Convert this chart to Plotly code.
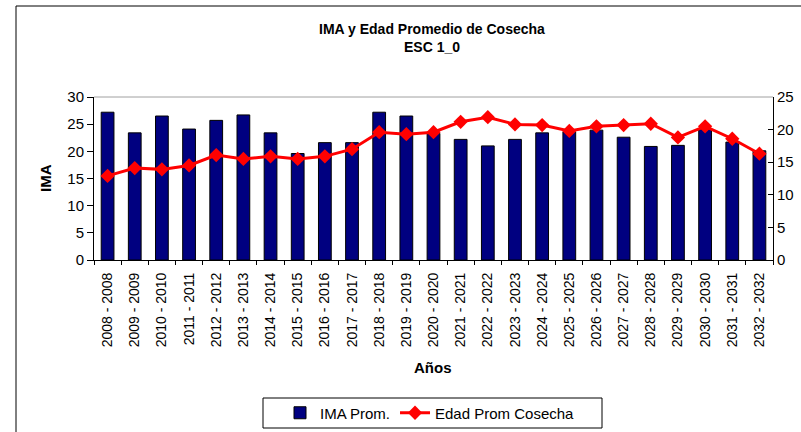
import plotly.graph_objects as go

categories = ["2008 - 2008", "2009 - 2009", "2010 - 2010", "2011 - 2011", "2012 - 2012",
              "2013 - 2013", "2014 - 2014", "2015 - 2015", "2016 - 2016", "2017 - 2017",
              "2018 - 2018", "2019 - 2019", "2020 - 2020", "2021 - 2021", "2022 - 2022",
              "2023 - 2023", "2024 - 2024", "2025 - 2025", "2026 - 2026", "2027 - 2027",
              "2028 - 2028", "2029 - 2029", "2030 - 2030", "2031 - 2031", "2032 - 2032"]
ima_prom = [27.2, 23.4, 26.5, 24.1, 25.7, 26.7, 23.4, 19.6, 21.6, 21.6,
            27.2, 26.5, 23.3, 22.2, 21.0, 22.2, 23.4, 23.6, 23.9, 22.6,
            20.9, 21.1, 24.0, 21.7, 20.1]
edad_prom = [12.9, 14.1, 13.9, 14.5, 16.1, 15.5, 15.9, 15.5, 15.9, 17.0,
             19.6, 19.3, 19.6, 21.2, 21.9, 20.8, 20.7, 19.8, 20.5, 20.7,
             20.9, 18.8, 20.5, 18.6, 16.3]

FONT = "Liberation Sans, Arial, sans-serif"
W, H = 801, 432
ML, MR, MT, MB = 94, 28, 97, 172
PW, PH = W - ML - MR, H - MT - MB


def px(x):
    return (x - ML) / PW


def py(y):
    return (H - MB - y) / PH


fig = go.Figure()
fig.add_trace(go.Bar(
    x=categories, y=ima_prom, name="IMA Prom.",
    marker=dict(color="#000080", line=dict(color="black", width=1)),
    yaxis="y",
))
fig.add_trace(go.Scatter(
    x=categories, y=edad_prom, name="Edad Prom Cosecha",
    mode="lines+markers",
    line=dict(color="#FF0000", width=3),
    marker=dict(symbol="diamond", size=11, color="#FF0000"),
    yaxis="y2",
))

fig.update_layout(
    width=W, height=H,
    margin=dict(l=ML, r=MR, t=MT, b=MB, autoexpand=False),
    paper_bgcolor="white", plot_bgcolor="white",
    font=dict(family=FONT, color="black", size=14),
    bargap=0.53,
    showlegend=True,
    legend=dict(
        orientation="h", x=px(430), xanchor="center", y=py(413), yanchor="middle",
        borderwidth=0, font=dict(size=15, family=FONT),
        bgcolor="rgba(0,0,0,0)", itemwidth=30,
    ),
    xaxis=dict(
        type="category", range=[-0.5, len(categories) - 0.5],
        tickangle=-90, tickson="boundaries",
        ticks="outside", ticklen=4, tickcolor="black",
        showline=True, linecolor="black", linewidth=1,
        showgrid=False, zeroline=False, automargin=False,
        tickfont=dict(size=14, family=FONT),
        ticklabelstandoff=6,
    ),
    yaxis=dict(
        range=[0, 30], dtick=5, ticks="outside", ticklen=6, tickcolor="black",
        showline=True, linecolor="black", linewidth=1,
        showgrid=False, zeroline=False, automargin=False,
        tickfont=dict(size=15, family=FONT),
    ),
    yaxis2=dict(
        range=[0, 25], dtick=5, overlaying="y", side="right",
        ticks="inside", ticklen=5, tickcolor="black",
        showline=True, linecolor="black", linewidth=1,
        showgrid=False, zeroline=False, automargin=False,
        tickfont=dict(size=15, family=FONT),
    ),
    shapes=[
        dict(type="line", xref="paper", yref="paper", x0=0, x1=1, y0=1, y1=1,
             line=dict(color="#A0A0A0", width=1), layer="below"),
        dict(type="rect", xref="paper", yref="paper",
             x0=px(16), x1=px(830), y0=py(6), y1=py(460),
             line=dict(color="black", width=1)),
        dict(type="rect", xref="paper", yref="paper",
             x0=px(263), x1=px(602), y0=py(398), y1=py(428),
             line=dict(color="black", width=1)),
    ],
    annotations=[
        dict(text="<b>IMA y Edad Promedio de Cosecha</b>", x=px(432), y=py(29),
             xref="paper", yref="paper", showarrow=False, xanchor="center",
             yanchor="middle", font=dict(size=14, family=FONT)),
        dict(text="<b>ESC 1_0</b>", x=px(432), y=py(47),
             xref="paper", yref="paper", showarrow=False, xanchor="center",
             yanchor="middle", font=dict(size=14, family=FONT)),
        dict(text="<b>IMA</b>", x=px(45), y=py(178), textangle=-90,
             xref="paper", yref="paper", showarrow=False, xanchor="center",
             yanchor="middle", font=dict(size=15, family=FONT)),
        dict(text="<b>Años</b>", x=px(433), y=py(367),
             xref="paper", yref="paper", showarrow=False, xanchor="center",
             yanchor="middle", font=dict(size=15, family=FONT)),
    ],
)

fig.write_html("out.html")
